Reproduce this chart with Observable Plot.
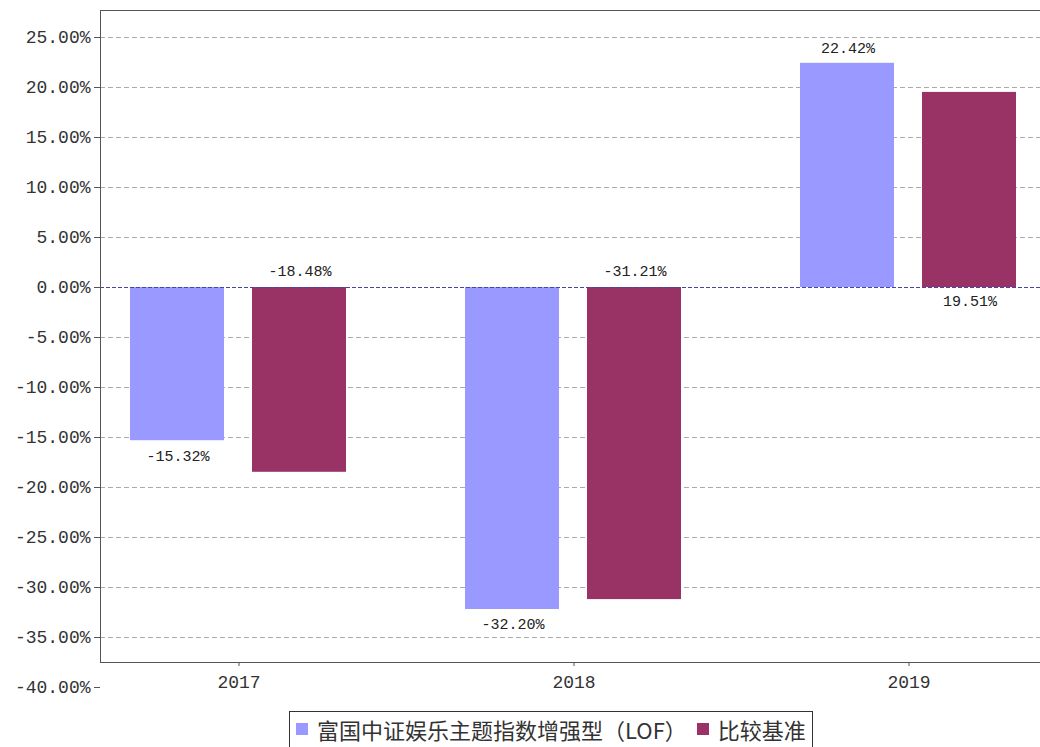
<!DOCTYPE html>
<html>
<head>
<meta charset="utf-8">
<script src="https://cdn.jsdelivr.net/npm/d3@7"></script>
<script src="https://cdn.jsdelivr.net/npm/@observablehq/plot@0.6"></script>
<style>
  html, body { margin: 0; padding: 0; background: #fff; }
  #chart { width: 1040px; }
  .legend {
    display: inline-flex; align-items: center;
    margin-left: 289px; margin-top: 6px;
    border: 1px solid #333; padding: 4px 6px 10px 6px;
    font-family: "Noto Sans CJK SC", sans-serif; font-size: 22px; color: #333;
    line-height: 26px; letter-spacing: 0px;
  }
  .legend .sw { display: inline-block; width: 12px; height: 12px; margin-right: 9px; }
  .legend .item { display: inline-flex; align-items: center; }
  .legend .item + .item { margin-left: 10px; }
</style>
</head>
<body>
<div id="chart"></div>
<script>
const years = ["2017", "2018", "2019"];
const fundValues = [-15.32, -32.20, 22.42];
const benchValues = [-18.48, -31.21, 19.51];
const seriesNames = ["富国中证娱乐主题指数增强型（LOF）", "比较基准"];
const seriesColors = ["#9999ff", "#993366"];
const yTicks = [25, 20, 15, 10, 5, 0, -5, -10, -15, -20, -25, -30, -35, -40];

const fund = years.map((y, i) => ({year: y, value: fundValues[i]}));
const bench = years.map((y, i) => ({year: y, value: benchValues[i]}));
const fmt = v => v.toFixed(2) + "%";
const monoFont = "'Liberation Mono', monospace";
const labelStyle = {fontSize: 15, fill: "#222", lineAnchor: "middle"};

const plot = Plot.plot({
  width: 1040,
  height: 705,
  marginLeft: 100,
  marginRight: 0,
  marginTop: 10,
  marginBottom: 43,
  style: {fontFamily: monoFont, color: "#333", background: "#fff"},
  x: {type: "band", domain: years, range: [71, 1076], padding: 0},
  y: {domain: [-37.5, 27.7]},
  marks: [
    Plot.gridY(yTicks.filter(d => d !== 0 && d > -37.5), {stroke: "#aaa", strokeOpacity: 1, strokeDasharray: "5,3"}),
    Plot.barY(fund, {x: "year", y: "value", fill: seriesColors[0], insetLeft: 59, insetRight: 182}),
    Plot.barY(bench, {x: "year", y: "value", fill: seriesColors[1], insetLeft: 181, insetRight: 60}),
    Plot.ruleY([0], {stroke: "#4444aa", strokeDasharray: "4,2", strokeWidth: 1}),
    Plot.frame({anchor: "top", stroke: "#555"}),
    Plot.frame({anchor: "left", stroke: "#555"}),
    Plot.frame({anchor: "bottom", stroke: "#555"}),
    Plot.axisY(yTicks, {tickFormat: fmt, tickSize: 6, tickPadding: 4, fontSize: 18, stroke: "#555", fill: "#333", label: null}),
    Plot.axisX({tickSize: 4, tickPadding: 9, fontSize: 18, stroke: "#555", fill: "#333", label: null}),
    // fund labels at the bar end, outside
    Plot.text(fund.filter(d => d.value >= 0), {x: "year", y: "value", text: d => fmt(d.value), dx: -61, dy: -15, ...labelStyle}),
    Plot.text(fund.filter(d => d.value < 0), {x: "year", y: "value", text: d => fmt(d.value), dx: -61, dy: 15, ...labelStyle}),
    // benchmark labels at the base, on the opposite side
    Plot.text(bench.filter(d => d.value < 0), {x: "year", y: 0, text: d => fmt(d.value), dx: 61, dy: -16, ...labelStyle}),
    Plot.text(bench.filter(d => d.value >= 0), {x: "year", y: 0, text: d => fmt(d.value), dx: 61, dy: 14, ...labelStyle}),
  ]
});
document.getElementById("chart").appendChild(plot);

const legend = document.createElement("div");
legend.className = "legend";
seriesNames.forEach((name, i) => {
  const item = document.createElement("span");
  item.className = "item";
  const sw = document.createElement("span");
  sw.className = "sw";
  sw.style.background = seriesColors[i];
  item.appendChild(sw);
  item.appendChild(document.createTextNode(name));
  legend.appendChild(item);
});
document.getElementById("chart").appendChild(legend);
</script>
</body>
</html>
